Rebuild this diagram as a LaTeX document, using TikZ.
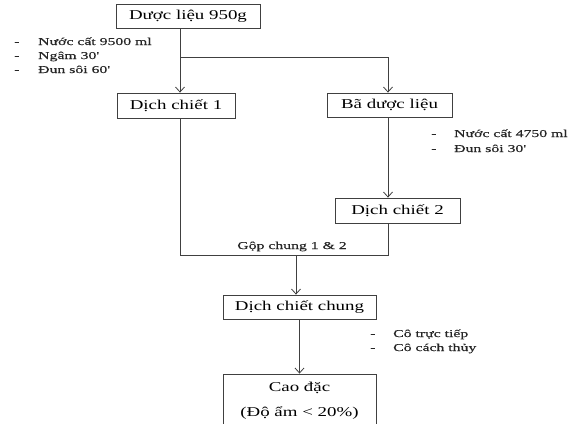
\documentclass[tikz,border=0pt]{standalone}
\usepackage{fontspec}
\setmainfont{Liberation Serif}[FakeStretch=1.4]
\newfontfamily\notefont{Liberation Serif}[FakeStretch=1.5,FakeBold=0.4]
\usetikzlibrary{arrows.meta}
\begin{document}
\begin{tikzpicture}[x=1pt,y=-1pt,
  line/.style={draw=black!75, line width=0.8pt},
  arr/.style={line, -{Straight Barb[length=5pt,width=9pt]}},
  box/.style={draw=black!75, line width=0.8pt, inner sep=0pt, font=\fontsize{13.5}{16}\selectfont},
  note/.style={inner sep=0pt, anchor=base west, font=\notefont\fontsize{10.5}{12}\selectfont, text=black!85},
  lbl/.style={inner sep=0pt, anchor=base, font=\notefont\fontsize{10.5}{12}\selectfont, text=black!85},
  cl/.style={inner sep=0pt, anchor=base, font=\fontsize{13.5}{16}\selectfont}]
\useasboundingbox (0,0) rectangle (578,423);
\clip (0,0) rectangle (578,423);
% boxes
\node[box, minimum width=144pt, minimum height=24pt] (top) at (188,16) {Dược liệu 950g};
\node[box, minimum width=118pt, minimum height=25pt] (d1) at (176,105.5) {Dịch chiết 1};
\node[box, minimum width=125pt, minimum height=24pt] (ba) at (389.5,105) {Bã dược liệu};
\node[box, minimum width=125pt, minimum height=25pt] (d2) at (397.5,210.5) {Dịch chiết 2};
\node[box, minimum width=153pt, minimum height=24pt] (dcc) at (299.5,307) {Dịch chiết chung};
\node[box, minimum width=153pt, minimum height=80pt] (cao) at (299.5,414) {};
\node[cl] (cao1) at (299.5,391) {Cao đặc};
\node[cl] (cao2) at (299.5,416) {(Độ ẩm < 20\%)};
% guide coordinates
\coordinate (xa) at (180,0);
\coordinate (xb) at (388,0);
\coordinate (br) at (180,57);
\coordinate (ml) at (180,255);
\coordinate (mr) at (388,255);
\coordinate (mm) at (296,255);
% connectors
\draw[arr] (top.south -| xa) -- (d1.north -| xa);
\draw[arr] (br) -| (ba.north -| xb);
\draw[arr] (ba.south -| xb) -- (d2.north -| xb);
\draw[line] (d1.south -| ml) -- (ml) -- (mr) -- (d2.south -| mr);
\draw[arr] (mm) -- (dcc.north -| mm);
\draw[arr] (dcc.south -| cao.north) -- (cao.north);
\node[lbl] (gop) at (292,249) {Gộp chung 1 \& 2};
% notes
\node[note] (n1d) at (14,45) {-};
\node[note] (n1) at (38,45) {Nước cất 9500 ml};
\node[note] (n2d) at (14,59) {-};
\node[note] (n2) at (38,59) {Ngâm 30'};
\node[note] (n3d) at (14,73) {-};
\node[note] (n3) at (38,73) {Đun sôi 60'};
\node[note] (r1d) at (431,137) {-};
\node[note] (r1) at (454,137) {Nước cất 4750 ml};
\node[note] (r2d) at (431,152) {-};
\node[note] (r2) at (454,152) {Đun sôi 30'};
\node[note] (c1d) at (370,337) {-};
\node[note] (c1) at (393,337) {Cô trực tiếp};
\node[note] (c2d) at (370,351) {-};
\node[note] (c2) at (393,351) {Cô cách thủy};
\end{tikzpicture}
\end{document}
